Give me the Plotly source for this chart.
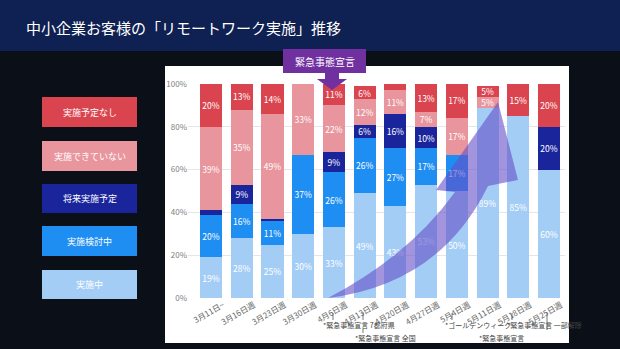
import plotly.graph_objects as go

# Weekly share of remote-work status among SME customers (percent, bottom to top)
weeks = ["3月11日~", "3月16日週", "3月23日週", "3月30日週", "4月6日週", "4月13日週",
         "4月20日週", "4月27日週", "5月4日週", "5月11日週", "5月18日週", "5月25日週"]
doing = [19, 28, 25, 30, 33, 49, 43, 53, 50, 89, 85, 60]          # 実施中
considering = [20, 16, 11, 37, 26, 26, 27, 17, 17, 0, 0, 0]        # 実施検討中
planned = [2, 9, 1, 0, 9, 6, 16, 10, 0, 0, 0, 20]                  # 将来実施予定
unable = [39, 35, 49, 33, 22, 12, 11, 7, 17, 5, 0, 0]              # 実施できていない
no_plan = [20, 13, 14, 0, 11, 6, 3, 13, 17, 5, 15, 20]             # 実施予定なし

series_names = ["実施中", "実施検討中", "将来実施予定", "実施できていない", "実施予定なし"]
series_values = [doing, considering, planned, unable, no_plan]
series_colors = ["#a4cdf6", "#1e8ef2", "#1a259c", "#e8959d", "#d9444f"]

y_ticks = [0, 20, 40, 60, 80, 100]
y_tick_text = [f"{v}%" for v in y_ticks]

FONT = "Noto Sans CJK JP"
W, H = 620, 349
L, R, T, B = 188, 565, 84, 298  # plot area in pixels


def px(x):
    return (x - L) / (R - L)


def py(y):
    return (B - y) / (B - T)


fig = go.Figure()
for name, vals, col in zip(series_names, series_values, series_colors):
    fig.add_trace(go.Bar(
        x=weeks, y=[v if v else None for v in vals], name=name,
        marker=dict(color=col, line=dict(width=0)),
        text=[f"{v}%" if v >= 5 else "" for v in vals],
        textposition="inside", insidetextanchor="middle", textangle=0,
        textfont=dict(color="white", size=8.5, family=FONT),
        showlegend=False,
    ))

shapes = []
annotations = []


def label(x, y, text, size, color, xanchor="center"):
    annotations.append(dict(xref="paper", yref="paper", x=px(x), y=py(y),
                            xanchor=xanchor, yanchor="middle", showarrow=False,
                            text=text, font=dict(color=color, size=size, family=FONT)))


# title band and white chart panel
shapes.append(dict(type="rect", xref="paper", yref="paper", layer="below",
                   x0=px(0), x1=px(W), y0=py(51), y1=py(0),
                   fillcolor="#0f2052", line=dict(width=0)))
shapes.append(dict(type="rect", xref="paper", yref="paper", layer="below",
                   x0=px(165), x1=px(569), y0=py(343), y1=py(66),
                   fillcolor="white", line=dict(width=0)))
label(24, 28, "中小企業お客様の「リモートワーク実施」推移", 15, "white", xanchor="left")

# left-hand legend boxes
legend_rows = [(97, 127), (141, 171), (184, 213), (226, 256), (270, 299)]
for (y0, y1), name, col in zip(legend_rows, series_names[::-1], series_colors[::-1]):
    shapes.append(dict(type="rect", xref="paper", yref="paper",
                       x0=px(42), x1=px(137), y0=py(y1), y1=py(y0),
                       fillcolor=col, line=dict(width=0)))
    label(89.5, (y0 + y1) / 2, name, 9, "white")

# 緊急事態宣言 call-out box with a down arrow onto the 4月6日週 bar
shapes.append(dict(type="rect", xref="paper", yref="paper",
                   x0=px(283), x1=px(366), y0=py(73), y1=py(49),
                   fillcolor="#7030a0", line=dict(width=0)))
ax = 332
arrow_pts = [(ax - 7, 73), (ax + 7, 73), (ax + 7, 79), (ax + 15, 79), (ax, 90),
             (ax - 15, 79), (ax - 7, 79)]
shapes.append(dict(type="path", xref="paper", yref="paper",
                   path="M" + " L".join(f"{px(x)},{py(y)}" for x, y in arrow_pts) + " Z",
                   fillcolor="#7030a0", line=dict(width=0)))
label(325, 61, "緊急事態宣言", 10, "white")


# large curved trend arrow
def P(x, y):
    return f"{px(x):.4f},{py(y):.4f}"


curve = (f"M{P(328, 298)} Q{P(440, 284)} {P(488, 186)} L{P(518, 180)} "
         f"L{P(498, 102)} L{P(436, 190)} L{P(455, 192)} Q{P(410, 255)} {P(328, 298)} Z")
shapes.append(dict(type="path", xref="paper", yref="paper", path=curve, layer="above",
                   fillcolor="rgba(100,78,200,0.6)", line=dict(width=0)))

# event notes under the week labels
notes = [
    (321, 325, "*緊急事態宣言 7都府県"),
    (353, 338, "*緊急事態宣言 全国"),
    (443, 325, "*ゴールデンウィーク"),
    (477, 338, "*緊急事態宣言"),
    (505, 325, "*緊急事態宣言 一部解除"),
]
for x, y, t in notes:
    label(x, y, t, 7, "#444444", xanchor="left")
ticks_marks = [(333, 313, 320), (363, 312, 320), (363, 329, 333), (452, 313, 320),
               (512, 313, 320), (547, 313, 330)]
for x, y0, y1 in ticks_marks:
    shapes.append(dict(type="line", xref="paper", yref="paper",
                       x0=px(x), x1=px(x), y0=py(y0), y1=py(y1),
                       line=dict(color="#555555", width=0.8)))

fig.update_layout(
    width=W, height=H,
    margin=dict(l=L, r=W - R, t=T, b=H - B, pad=0),
    paper_bgcolor="#0b0f18", plot_bgcolor="white",
    barmode="stack", bargap=0.28,
    font=dict(family=FONT),
    shapes=shapes, annotations=annotations,
    xaxis=dict(range=[-0.75, 11.52], tickangle=-30, showgrid=False, showline=False,
               ticks="", tickfont=dict(size=8, color="#666666", family=FONT),
               ticklabelshift=12),
    yaxis=dict(range=[0, 100], tickvals=y_ticks, ticktext=y_tick_text, showline=False,
               gridcolor="#e6e6e6", gridwidth=1, zeroline=False, ticks="",
               tickfont=dict(size=8, color="#808080", family=FONT)),
    uniformtext=dict(minsize=8, mode="show"),
)

fig.write_html("out.html")
